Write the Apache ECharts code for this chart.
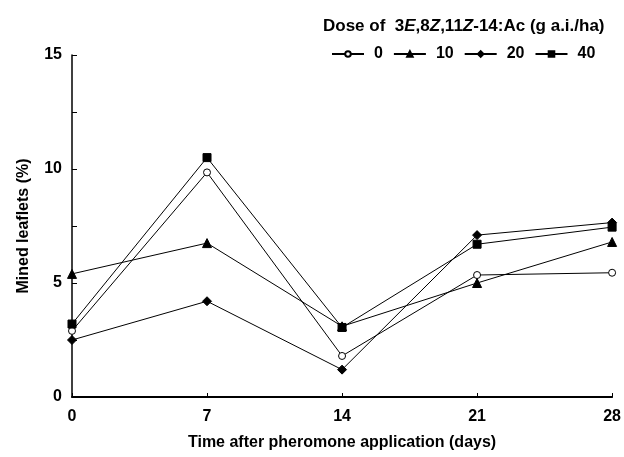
<!DOCTYPE html>
<html>
<head>
<meta charset="utf-8">
<script src="https://cdn.jsdelivr.net/npm/echarts@6/dist/echarts.min.js"></script>
<style>
  html, body { margin: 0; padding: 0; background: #fff; }
  #chart { width: 624px; height: 457px; }
</style>
</head>
<body>
<div id="chart"></div>
<script>
const days = [0, 7, 14, 21, 28]
const dose0 = [2.9, 9.85, 1.8, 5.35, 5.45]
const dose10 = [5.4, 6.75, 3.1, 5.0, 6.8]
const dose20 = [2.5, 4.2, 1.2, 7.1, 7.65]
const dose40 = [3.2, 10.5, 3.05, 6.7, 7.45]

const font = 'Liberation Sans, Arial, sans-serif'

const chart = echarts.init(document.getElementById('chart'))

const makeSeries = (name, values, symbol, size, fill) => ({
  name: name,
  type: 'line',
  data: days.map((d, i) => [d, values[i]]),
  symbol: symbol,
  symbolSize: size,
  showAllSymbol: true,
  lineStyle: { color: '#000', width: 1 },
  itemStyle: { color: fill, borderColor: '#000', borderWidth: 1 },
  emphasis: { disabled: true },
  z: 3
})

chart.setOption({
  animation: false,
  title: {
    text: '{b|Dose of  3}{i|E}{b|,8}{i|Z}{b|,11}{i|Z}{b|-14:Ac (g a.i./ha)}',
    left: 318,
    top: 13,
    textStyle: {
      rich: {
        b: { fontFamily: font, fontWeight: 'bold', fontSize: 17, color: '#000' },
        i: { fontFamily: font, fontWeight: 'bold', fontStyle: 'italic', fontSize: 17, color: '#000' }
      }
    }
  },
  legend: {
    left: 331,
    top: 46,
    padding: 0,
    itemWidth: 32,
    itemHeight: 7,
    itemGap: 10,
    textStyle: { fontFamily: font, fontWeight: 'bold', fontSize: 16, color: '#000', padding: [0, 0, 0, 5] },
    data: ['0', '10', '20', '40']
  },
  grid: { left: 72, right: 10, top: 55, bottom: 60 },
  xAxis: {
    type: 'value',
    min: 0,
    max: 28,
    interval: 7,
    name: 'Time after pheromone application (days)',
    nameLocation: 'middle',
    nameGap: 38,
    nameTextStyle: { fontFamily: font, fontWeight: 'bold', fontSize: 16, color: '#000' },
    axisLine: { lineStyle: { color: '#000', width: 2 } },
    axisTick: { inside: true, length: 4, lineStyle: { color: '#000' } },
    axisLabel: { fontFamily: font, fontWeight: 'bold', fontSize: 16, color: '#000', margin: 12 },
    splitLine: { show: false }
  },
  yAxis: {
    type: 'value',
    min: 0,
    max: 15,
    interval: 5,
    name: 'Mined leaflets (%)',
    nameLocation: 'middle',
    nameGap: 40,
    nameTextStyle: { fontFamily: font, fontWeight: 'bold', fontSize: 16, color: '#000' },
    axisLine: { lineStyle: { color: '#000', width: 1.5 } },
    axisTick: { inside: true, length: 5, lineStyle: { color: '#000' } },
    minorTick: { show: true, splitNumber: 2, length: 5, lineStyle: { color: '#000' } },
    axisLabel: { fontFamily: font, fontWeight: 'bold', fontSize: 16, color: '#000', margin: 10 },
    splitLine: { show: false }
  },
  series: [
    makeSeries('0', dose0, 'circle', 7, '#fff'),
    makeSeries('10', dose10, 'triangle', 9, '#000'),
    makeSeries('20', dose20, 'diamond', 9, '#000'),
    makeSeries('40', dose40, 'rect', 8, '#000')
  ]
})
</script>
</body>
</html>
